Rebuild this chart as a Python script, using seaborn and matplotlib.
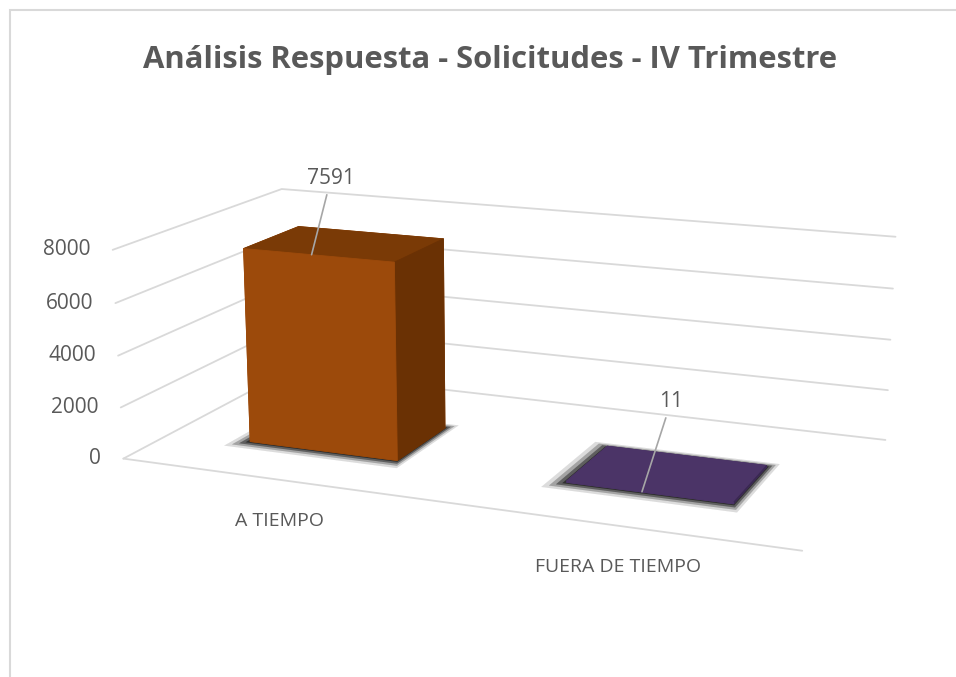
import matplotlib
matplotlib.use('Agg')
import matplotlib.pyplot as plt
import seaborn as sns
from mpl_toolkits.mplot3d import proj3d
from matplotlib.patches import Rectangle

# Data
categories = ['A TIEMPO', 'FUERA DE TIEMPO']
values = [7591, 11]
z_ticks = [0, 2000, 4000, 6000, 8000]
title = 'Análisis Respuesta - Solicitudes - IV Trimestre'

# face colours: bottom, top, front, back, left, right
bar_faces = [
    ['#7A3A06', '#7A3A06', '#9C4A0B', '#9C4A0B', '#9C4A0B', '#6A3104'],
    ['#4B3467', '#4B3467', '#4B3467', '#4B3467', '#4B3467', '#3A2852'],
]
grid_color = '#D9D9D9'
text_color = '#595959'

sns.set_style('white')
plt.rcParams['font.family'] = ['Open Sans', 'DejaVu Sans']

fig = plt.figure(figsize=(9.56, 6.77), dpi=100)
ax = fig.add_axes([-0.182, -0.335, 1.4, 1.6], projection='3d')
ax.computed_zorder = False
ax.set_proj_type('persp', focal_length=0.35)
ax.view_init(elev=15, azim=-68)
ax.set_box_aspect((2.6, 1.3, 0.8), zoom=0.72)
ax.set_xlim(-0.5, 1.5)
ax.set_ylim(0, 1)
ax.set_zlim(0, 8000)
ax.set_axis_off()

x0, x1 = ax.get_xlim()
y0, y1 = ax.get_ylim()

# gridlines on the left and back walls
for z in z_ticks:
    ax.plot([x0, x0, x1], [y0, y1, y1], [z, z, z], color=grid_color, lw=1.3,
            clip_on=False, zorder=1)
# front edge of the floor
ax.plot([x0, x1], [y0, y0], [0, 0], color=grid_color, lw=1.3, clip_on=False, zorder=1)

# bars with a soft shadow on the floor
width, depth, front = 0.48, 0.34, 0.28
for i, val in enumerate(values):
    for pad, a in [(0.04, 0.08), (0.028, 0.16), (0.017, 0.3), (0.007, 0.5)]:
        sh = ax.bar3d(i - width / 2 - pad * 1.3, front - pad * 1.6, 0, width + 2 * pad,
                      depth + 2.6 * pad, 1, color='#202020', alpha=a, shade=False,
                      edgecolor='none', zorder=2)
        sh.set_clip_on(False)
for i, val in enumerate(values):
    br = ax.bar3d(i - width / 2, front, 0, width, depth, max(val, 60),
                  color=bar_faces[i], shade=False, edgecolor=bar_faces[i], lw=0.6,
                  zorder=3)
    br.set_clip_on(False)

fig.canvas.draw()
M = ax.get_proj()


def to2d(x, y, z):
    px, py, _ = proj3d.proj_transform(x, y, z, M)
    return px, py


# value axis labels
for z in z_ticks:
    ax.annotate(f'{z}', to2d(x0, y0, z), xytext=(-16, 0), textcoords='offset points',
                ha='right', va='center', fontsize=15, color=text_color,
                annotation_clip=False)

# category labels
for i, cat in enumerate(categories):
    ax.annotate(cat, to2d(i, y0, 0), xytext=(2, -30), textcoords='offset points',
                ha='center', va='center', fontsize=14, color=text_color,
                annotation_clip=False)

# data labels with leader lines
label_offsets = [(14, 55), (21, 65)]
for i, val in enumerate(values):
    top = to2d(i - 0.02, front, val)
    ax.annotate(f'{val}', top, xytext=label_offsets[i], textcoords='offset points',
                ha='center', va='center', fontsize=15, color=text_color,
                annotation_clip=False, zorder=5,
                arrowprops=dict(arrowstyle='-', color='#A6A6A6', lw=1.2,
                                shrinkA=2, shrinkB=0))

fig.text(0.513, 0.912, title, ha='center', va='center', fontsize=22.3,
         fontweight='bold', color=text_color)

# chart frame (cut on the right and bottom like the screenshot)
fig.patches.append(Rectangle((10 / 956, -0.1), 1.2, 1.1 - 10 / 677, transform=fig.transFigure,
                             fill=False, edgecolor='#D9D9D9', lw=1.5, clip_on=False))

fig.savefig('out.png', dpi=100, facecolor='white')
